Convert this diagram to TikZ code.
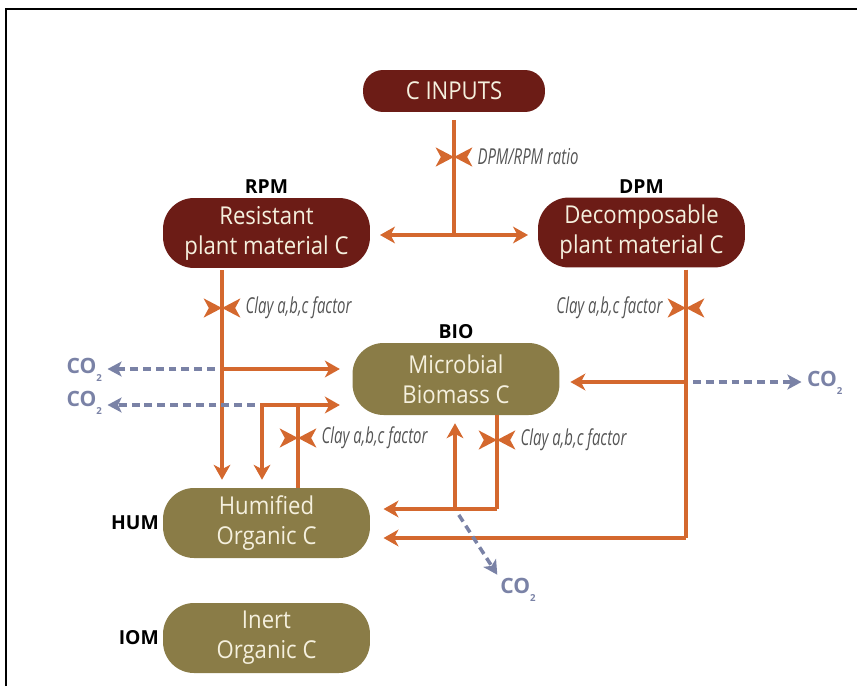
\documentclass[tikz,border=0pt]{standalone}
\usepackage{fontspec}
\setmainfont{Open Sans}
\newfontfamily\ratefont[FakeStretch=0.68]{Open Sans}
\newfontfamily\poolfont[FakeStretch=0.9]{Open Sans}
\usepackage{tikz}
\usetikzlibrary{arrows.meta,positioning,calc}

\definecolor{plantred}{RGB}{108,28,22}
\definecolor{soilolive}{RGB}{138,124,71}
\definecolor{pooltext}{RGB}{245,240,222}
\definecolor{flowor}{RGB}{212,104,46}
\definecolor{co2blue}{RGB}{122,130,166}
\definecolor{ratetext}{RGB}{85,85,85}

\tikzset{
  pool/.style={rounded corners=0.62cm, text=pooltext, align=center,
    minimum width=4.14cm, minimum height=1.4cm, inner sep=0pt,
    font=\poolfont\fontsize{14}{17}\selectfont},
  plantpool/.style={pool, fill=plantred},
  soilpool/.style={pool, fill=soilolive},
  poolname/.style={font=\fontsize{11}{13}\selectfont\bfseries, text=black, inner sep=2pt},
  flow/.style={draw=flowor, line width=2.3pt},
  flowto/.style={flow, -{Stealth[length=8.5pt, width=9.5pt, inset=2.5pt]}},
  co2flow/.style={draw=co2blue, line width=2pt, dash pattern=on 4.5pt off 2.8pt,
    -{Stealth[length=8pt, width=8.5pt, inset=2pt]}},
  co2/.style={text=co2blue, font=\fontsize{12}{13}\selectfont\bfseries, inner sep=1pt},
  rate/.style={text=ratetext, font=\ratefont\itshape\fontsize{12.5}{14}\selectfont, inner sep=2.5pt},
  valve/.style={minimum width=21pt, minimum height=11pt, inner sep=0pt,
    path picture={
      \fill[flowor] (path picture bounding box.north west) -- (path picture bounding box.center)
        -- (path picture bounding box.south west) -- ($(path picture bounding box.west)+(3pt,0)$) -- cycle;
      \fill[flowor] (path picture bounding box.north east) -- (path picture bounding box.center)
        -- (path picture bounding box.south east) -- ($(path picture bounding box.east)+(-3pt,0)$) -- cycle;
    }},
}

\begin{document}
\begin{tikzpicture}[x=0.02cm, y=-0.02cm]
    \useasboundingbox (0,0) rectangle (857,686);
    \draw[line width=1.2pt] (6,686) -- (6,9) -- (857,9);

    % Pools
    \node[plantpool, minimum width=3.64cm, minimum height=0.84cm, rounded corners=0.4cm] (cin) at (454,91) {C INPUTS};
    \node[plantpool, label={[poolname]above:RPM}] (rpm) at (266.5,233) {Resistant\\plant material C};
    \node[plantpool, label={[poolname]above:DPM}] (dpm) at (641.5,232.5) {Decomposable\\plant material C};
    \node[soilpool, minimum height=1.44cm, label={[poolname]above:BIO}] (bio) at (456,379) {Microbial\\Biomass C};
    \node[soilpool, label={[poolname]left:HUM}] (hum) at (266.5,523) {Humified\\Organic C};
    \node[soilpool, label={[poolname]left:IOM}] (iom) at (266.5,638) {Inert\\Organic C};

    % CO2 outputs
    \node[co2, anchor=east] (co2a) at (104,370) {CO\raisebox{-0.7ex}{\fontsize{5.5}{6}\selectfont 2}};
    \node[co2, anchor=east] (co2b) at (104,403) {CO\raisebox{-0.7ex}{\fontsize{5.5}{6}\selectfont 2}};
    \node[co2, anchor=west] (co2d) at (805,383) {CO\raisebox{-0.7ex}{\fontsize{5.5}{6}\selectfont 2}};
    \node[co2] (co2c) at (518,590) {CO\raisebox{-0.7ex}{\fontsize{5.5}{6}\selectfont 2}};

    % Junctions
    \coordinate (cinsplit) at (454,235);
    \coordinate (rpmjoin) at (222,369);
    \coordinate (humup) at (298,405);
    \coordinate (humleft) at (262,405);
    \coordinate (biodown) at (497,509);
    \coordinate (bioup) at (455,509);
    \coordinate (dpmjoin) at (686,382);
    \coordinate (dpmcorner) at (686,538);

    % Inputs split
    \draw[flow, shorten <=4.5pt] (cin) -- (cinsplit);
    \draw[flowto, shorten >=5.5pt] (cinsplit) -- (cinsplit -| rpm.east);
    \draw[flowto, shorten >=5.5pt] (cinsplit) -- (cinsplit -| dpm.west);

    % RPM decomposition
    \draw[flowto, shorten <=1pt, shorten >=4.5pt] (rpm.south -| rpmjoin) -- (hum.north -| rpmjoin);
    \draw[flowto, shorten >=7pt] (rpmjoin) -- (rpmjoin -| bio.west);

    % HUM decomposition
    \draw[flow] (hum.north -| humup) -- (humup);
    \draw[flowto, shorten >=7pt] (humup) -- (humup -| bio.west);
    \draw[flowto, shorten >=4.5pt] (humup) -- (humleft) -- (hum.north -| humleft);

    % BIO decomposition
    \draw[flow] (bio.south -| biodown) -- (biodown);
    \draw[flowto, shorten >=7.5pt] (biodown) -- (biodown -| hum.east);
    \draw[flowto, shorten >=4.5pt] (bioup) -- (bio.south -| bioup);

    % DPM decomposition
    \draw[flow, shorten <=1pt] (dpm.south -| dpmjoin) -- (dpmcorner);
    \draw[flowto, shorten >=6pt] (dpmjoin) -- (dpmjoin -| bio.east);
    \draw[flowto, shorten >=7.5pt] (dpmcorner) -- (dpmcorner -| hum.east);

    % CO2 losses
    \draw[co2flow, shorten <=4pt, shorten >=2pt] (rpmjoin) -- (co2a.east |- rpmjoin);
    \draw[co2flow, shorten <=4pt, shorten >=2pt] (humleft) -- (co2b.east |- humleft);
    \draw[co2flow, shorten <=4pt, shorten >=2pt] (dpmjoin) -- (co2d.west |- dpmjoin);
    \draw[co2flow, shorten <=4pt, shorten >=1pt] (bioup) -- (co2c.north west);

    % Rate modifiers
    \node[valve, label={[rate]right:DPM/RPM ratio}] (vratio) at (454,157) {};
    \node[valve, label={[rate]right:Clay a,b,c factor}] (vrpm) at (222,308) {};
    \node[valve, label={[rate]left:Clay a,b,c factor}] (vdpm) at (686,308) {};
    \node[valve, label={[rate]right:Clay a,b,c factor}] (vhum) at (298,438) {};
    \node[valve, label={[rate]right:Clay a,b,c factor}] (vbio) at (497,440) {};
\end{tikzpicture}
\end{document}
